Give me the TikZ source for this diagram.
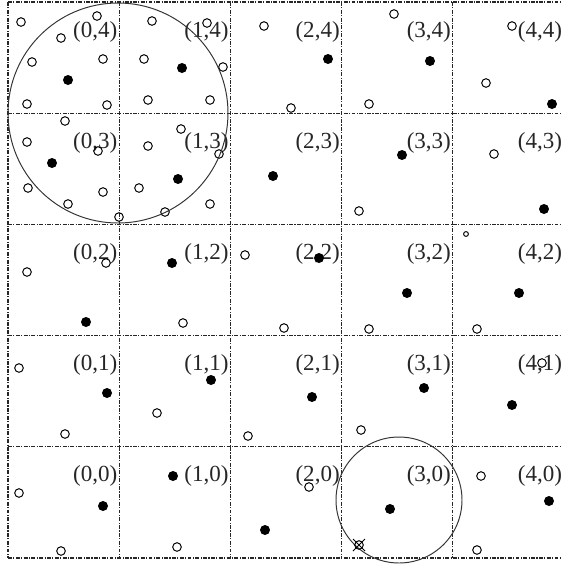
\documentclass[tikz,border=0pt]{standalone}
\usepackage{fontspec}
\setmainfont{Liberation Serif}
\usetikzlibrary{positioning, calc}
\begin{document}
\begin{tikzpicture}[
    x=0.018cm, y=-0.018cm,
    every node/.style={font=\fontsize{11.8}{14}\selectfont},
    gridline/.style={line width=0.6pt, black!85, dash pattern=on 2pt off 0.7pt on 0.6pt off 0.7pt},
    cell/.style={anchor=base east, inner sep=0pt, text=black!85},
    hollow/.style={draw, line width=0.5pt},
    filled/.style={fill=black},
    zone/.style={draw, line width=0.5pt, black!80}
]
\useasboundingbox (0,0) rectangle (561,565);

% grid of cells
\foreach \k in {0,...,5}{
  \draw[gridline] (8+111.2*\k,2) -- (8+111.2*\k,558);
  \draw[gridline] (8,2+111.2*\k) -- (564,2+111.2*\k);
}

% cell labels
\foreach \i in {0,...,4}
  \foreach \j in {0,...,4}
    \node[cell] (c\i\j) at ({8+111.2*(\i+1)-1.5},{2+111.2*(4-\j)+35}) {(\i,\j)};

% open points
\foreach \x/\y in {21/22, 97/16, 61/38, 152/21, 207/23, 32/62, 103/59, 144/59, 223/67,
    27/104, 107/105, 148/100, 210/100, 65/121, 27/142, 98/151, 148/146, 181/129,
    219/154, 28/188, 103/192, 139/188, 68/204, 165/212, 210/204, 119/217,
    264/26, 394/14, 512/26, 291/108, 369/104, 486/83, 494/154, 359/211,
    106/263, 27/272, 245/255, 183/323, 19/368, 157/413, 65/434, 248/436, 284/328,
    369/329, 477/329, 542/363, 361/430, 19/493, 61/551, 177/547,
    309/487, 481/476, 477/550}
  \draw[hollow] (\x,\y) circle (4.3);
\draw[hollow] (466,234) circle (2.4);

% filled points
\foreach \x/\y in {68/80, 182/68, 52/163, 178/179, 328/59, 430/61, 552/104, 402/155,
    273/176, 544/209, 172/263, 86/322, 107/393, 211/380, 319/258, 407/293, 519/293,
    312/397, 424/388, 512/405, 103/506, 173/476, 265/530, 390/509, 549/501}
  \fill[filled] (\x,\y) circle (5);

% neighbourhoods
\draw[zone] (118,113) circle (110);
\draw[zone] (399,500) circle (63);

% removed point
\coordinate (gone) at (359,545);
\draw[hollow] (gone) circle (4.3);
\draw[line width=0.5pt] ($(gone)+(-6,-6)$) -- ($(gone)+(6,6)$);
\draw[line width=0.5pt] ($(gone)+(-6,6)$) -- ($(gone)+(6,-6)$);
\end{tikzpicture}
\end{document}
